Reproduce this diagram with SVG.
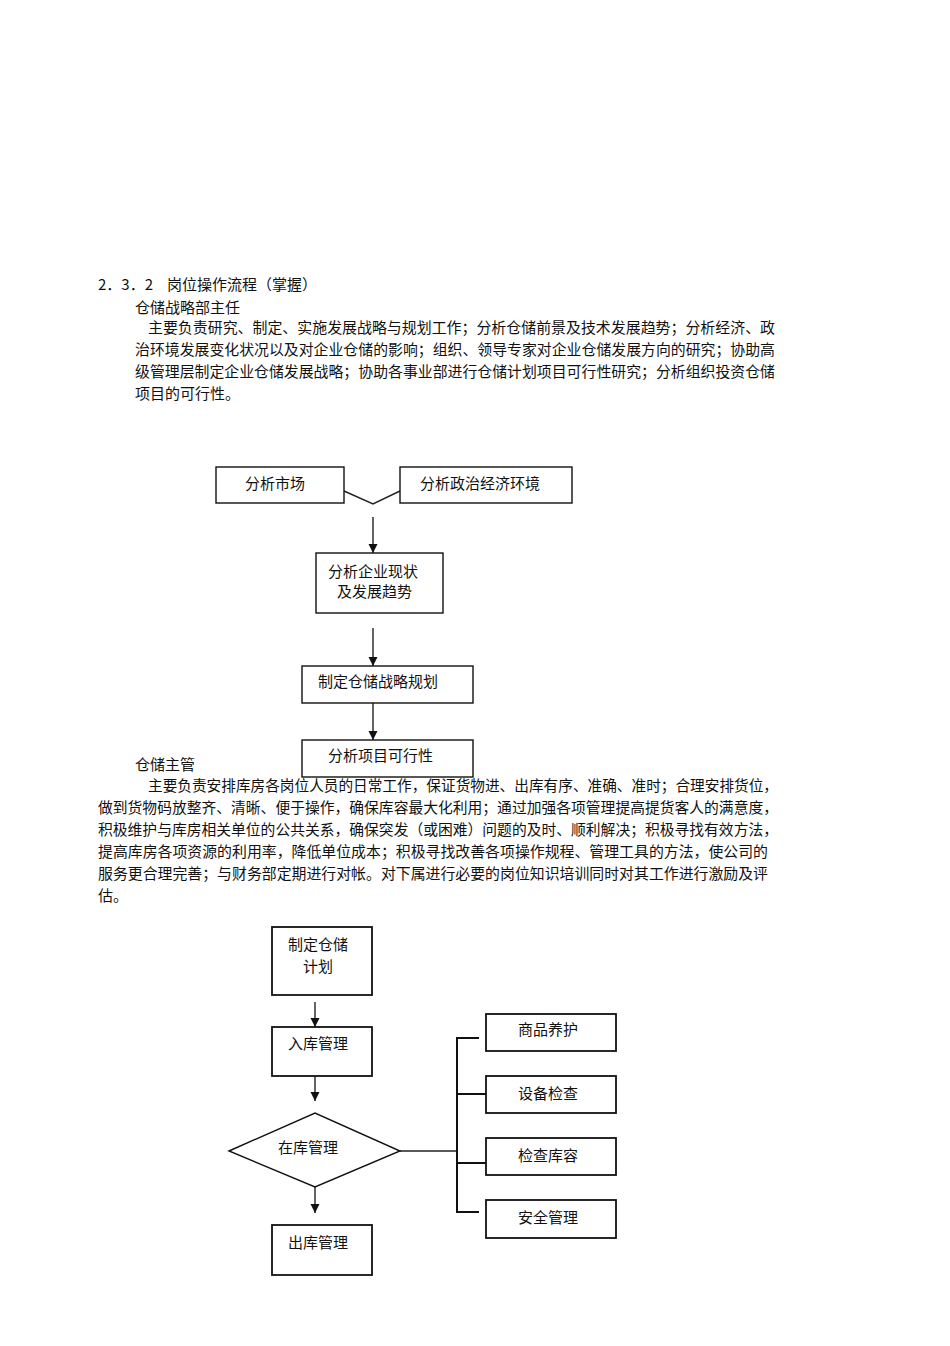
<svg xmlns="http://www.w3.org/2000/svg" width="950" height="1346" viewBox="0 0 950 1346">
<defs>
<style>
text{font-family:"Noto Sans CJK SC","Liberation Sans",sans-serif;font-size:15px;fill:#111}
.box{fill:#fff;stroke:#111;stroke-width:1.4}
.box2{fill:#fff;stroke:#111;stroke-width:1.8}
.ln{fill:none;stroke:#222;stroke-width:1.4}
.br{fill:none;stroke:#111;stroke-width:2}
.c{text-anchor:middle}
</style>
<marker id="ah" viewBox="0 0 10 10" refX="10" refY="5" markerWidth="9" markerHeight="10" markerUnits="userSpaceOnUse" orient="auto">
<path d="M0,0 L10,5 L0,10 z" fill="#111"/>
</marker>
</defs>
<rect width="950" height="1346" fill="#fff"/>

<g id="text1">
<text x="98" y="290">2．3．2</text>
<text x="167" y="290">岗位操作流程（掌握）</text>
<text x="135" y="313">仓储战略部主任</text>
<text x="148" y="333" textLength="627" lengthAdjust="spacingAndGlyphs">主要负责研究、制定、实施发展战略与规划工作；分析仓储前景及技术发展趋势；分析经济、政</text>
<text x="135" y="355" textLength="640" lengthAdjust="spacingAndGlyphs">治环境发展变化状况以及对企业仓储的影响；组织、领导专家对企业仓储发展方向的研究；协助高</text>
<text x="135" y="377" textLength="640" lengthAdjust="spacingAndGlyphs">级管理层制定企业仓储发展战略；协助各事业部进行仓储计划项目可行性研究；分析组织投资仓储</text>
<text x="135" y="399">项目的可行性。</text>
</g>

<g id="connectors1">
<polyline class="ln" points="344,491 373,504 400,491"/>
<line class="ln" x1="373" y1="517" x2="373" y2="553" marker-end="url(#ah)"/>
<line class="ln" x1="373" y1="628" x2="373" y2="666" marker-end="url(#ah)"/>
<line class="ln" x1="373" y1="703" x2="373" y2="740" marker-end="url(#ah)"/>
</g>

<g id="n-market">
<rect class="box" x="216" y="467" width="128" height="36"/>
<text x="245" y="489">分析市场</text>
</g>
<g id="n-env">
<rect class="box" x="400" y="467" width="172" height="36"/>
<text x="420" y="489">分析政治经济环境</text>
</g>
<g id="n-status">
<rect class="box" x="316" y="553" width="127" height="60"/>
<text x="328" y="577">分析企业现状</text>
<text x="337" y="597">及发展趋势</text>
</g>
<g id="n-plan">
<rect class="box" x="302" y="666" width="171" height="37"/>
<text x="318" y="687">制定仓储战略规划</text>
</g>
<g id="n-feas">
<rect class="box" x="302" y="740" width="171" height="37"/>
<text x="328" y="761">分析项目可行性</text>
</g>

<g id="text2">
<text x="135" y="770">仓储主管</text>
<text x="148" y="791" textLength="630" lengthAdjust="spacingAndGlyphs">主要负责安排库房各岗位人员的日常工作，保证货物进、出库有序、准确、准时；合理安排货位，</text>
<text x="98" y="813" textLength="680" lengthAdjust="spacingAndGlyphs">做到货物码放整齐、清晰、便于操作，确保库容最大化利用；通过加强各项管理提高提货客人的满意度，</text>
<text x="98" y="835" textLength="680" lengthAdjust="spacingAndGlyphs">积极维护与库房相关单位的公共关系，确保突发（或困难）问题的及时、顺利解决；积极寻找有效方法，</text>
<text x="98" y="857" textLength="670" lengthAdjust="spacingAndGlyphs">提高库房各项资源的利用率，降低单位成本；积极寻找改善各项操作规程、管理工具的方法，使公司的</text>
<text x="98" y="879" textLength="670" lengthAdjust="spacingAndGlyphs">服务更合理完善；与财务部定期进行对帐。对下属进行必要的岗位知识培训同时对其工作进行激励及评</text>
<text x="98" y="901">估。</text>
</g>

<g id="connectors2">
<line class="ln" x1="315" y1="1002" x2="315" y2="1027" marker-end="url(#ah)"/>
<line class="ln" x1="315" y1="1076" x2="315" y2="1101" marker-end="url(#ah)"/>
<line class="ln" x1="315" y1="1187" x2="315" y2="1213" marker-end="url(#ah)"/>
<line class="ln" x1="400" y1="1151" x2="457" y2="1151"/>
<polyline class="br" points="479,1038 457,1038 457,1212 479,1212"/>
<line class="br" x1="457" y1="1094" x2="486" y2="1094"/>
<line class="br" x1="457" y1="1163" x2="486" y2="1163"/>
</g>

<g id="n-plan2">
<rect class="box2" x="272" y="927" width="100" height="68"/>
<text class="c" x="318" y="950">制定仓储</text>
<text class="c" x="318" y="972">计划</text>
</g>
<g id="n-in">
<rect class="box2" x="272" y="1027" width="100" height="49"/>
<text class="c" x="318" y="1049">入库管理</text>
</g>
<g id="n-store">
<polygon class="box" points="229,1151 315,1113 400,1151 315,1187"/>
<text x="278" y="1153">在库管理</text>
</g>
<g id="n-out">
<rect class="box2" x="272" y="1225" width="100" height="50"/>
<text class="c" x="318" y="1248">出库管理</text>
</g>
<g id="n-care">
<rect class="box2" x="486" y="1014" width="130" height="37"/>
<text class="c" x="548" y="1035">商品养护</text>
</g>
<g id="n-equip">
<rect class="box2" x="486" y="1076" width="130" height="37"/>
<text class="c" x="548" y="1099">设备检查</text>
</g>
<g id="n-cap">
<rect class="box2" x="486" y="1138" width="130" height="37"/>
<text class="c" x="548" y="1161">检查库容</text>
</g>
<g id="n-safe">
<rect class="box2" x="486" y="1200" width="130" height="38"/>
<text class="c" x="548" y="1223">安全管理</text>
</g>
</svg>
